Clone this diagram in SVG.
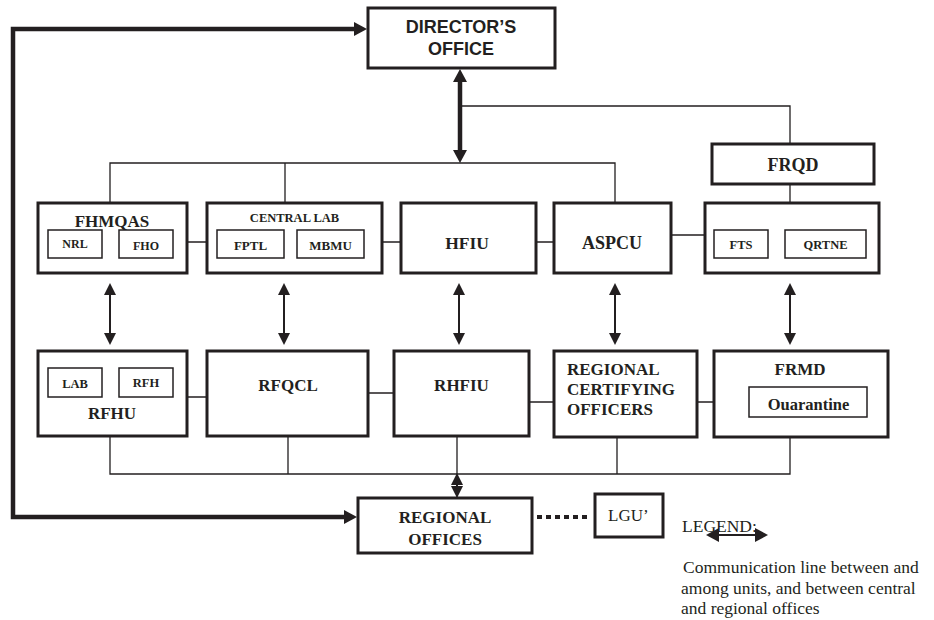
<svg xmlns="http://www.w3.org/2000/svg" width="934" height="620" viewBox="0 0 934 620">
<style>
.box{fill:#fff;stroke:#231f20;stroke-width:3}
.sub{fill:#fff;stroke:#231f20;stroke-width:1.5}
.ln{fill:none;stroke:#231f20;stroke-width:1.3}
.t{font-family:"Liberation Serif","Times New Roman",serif;font-weight:bold;fill:#231f20;text-anchor:middle}
.s{font-family:"Liberation Sans",Arial,sans-serif;font-weight:bold;fill:#231f20;text-anchor:middle;font-size:18px}
.r{font-family:"Liberation Serif","Times New Roman",serif;fill:#231f20}
</style>
<defs>
<marker id="am" viewBox="0 0 12 12" refX="1" refY="6" markerWidth="12" markerHeight="12" markerUnits="userSpaceOnUse" orient="auto-start-reverse"><path d="M0,0 L12,6 L0,12 z" fill="#231f20"/></marker>
<marker id="ab" viewBox="0 0 13 14" refX="1" refY="7" markerWidth="13" markerHeight="14" markerUnits="userSpaceOnUse" orient="auto-start-reverse"><path d="M0,0 L13,7 L0,14 z" fill="#231f20"/></marker>
</defs>
<g id="connectors">
<path class="ln" d="M460,106 H790 V144"/>
<path class="ln" d="M110,203 V163 H615 V203 M285,163 V203"/>
<path class="ln" d="M790,184 V203"/>
<path class="ln" d="M187,242 H207 M382,242 H401 M536,242 H554 M671,235 H705"/>
<path class="ln" d="M187,397 H207 M368,393 H394 M529,402 H554 M697,402 H714"/>
<path class="ln" d="M110,436 V474 H790 V437 M288,436 V474 M457,436 V474 M617,437 V474"/>
<path class="ln" d="M457,474 V498"/>
<path d="M460,81 V151" fill="none" stroke="#231f20" stroke-width="4.5" marker-start="url(#ab)" marker-end="url(#ab)"/>
<path d="M355,29 H13 V517 H345" fill="none" stroke="#231f20" stroke-width="4.5" marker-start="url(#ab)" marker-end="url(#ab)"/>
<g fill="none" stroke="#231f20" stroke-width="2" marker-start="url(#am)" marker-end="url(#am)">
<path d="M110,294 V334"/>
<path d="M284,294 V334"/>
<path d="M459,294 V334"/>
<path d="M615,294 V334"/>
<path d="M790,294 V334"/>
<path d="M457,484 V487"/>
</g>
<path d="M537,517 H590" fill="none" stroke="#231f20" stroke-width="4" stroke-dasharray="5,4"/>
</g>
<g id="director"><rect class="box" x="368" y="8" width="187" height="60"/><text class="s" x="461" y="33">DIRECTOR’S</text><text class="s" x="461" y="55">OFFICE</text></g>
<g id="frqd"><rect class="box" x="712" y="144" width="162" height="40"/><text class="t" x="793" y="171" font-size="18">FRQD</text></g>
<g id="fhmqas"><rect class="box" x="38" y="203" width="149" height="70"/><text class="t" x="112" y="227" font-size="17">FHMQAS</text>
<rect class="sub" x="48" y="230" width="54" height="28"/><text class="t" x="75" y="248" font-size="12">NRL</text>
<rect class="sub" x="119" y="230" width="54" height="28"/><text class="t" x="146" y="250" font-size="12">FHO</text></g>
<g id="centrallab"><rect class="box" x="207" y="203" width="175" height="70"/><text class="t" x="294.5" y="222" font-size="12.5">CENTRAL LAB</text>
<rect class="sub" x="217" y="230" width="67" height="28"/><text class="t" x="250.5" y="250" font-size="13">FPTL</text>
<rect class="sub" x="297" y="230" width="67" height="28"/><text class="t" x="330.5" y="250" font-size="13">MBMU</text></g>
<g id="hfiu"><rect class="box" x="401" y="203" width="135" height="70"/><text class="t" x="467" y="249" font-size="17.5">HFIU</text></g>
<g id="aspcu"><rect class="box" x="554" y="203" width="117" height="70"/><text class="t" x="612" y="249" font-size="18">ASPCU</text></g>
<g id="fts"><rect class="box" x="705" y="203" width="174" height="70"/>
<rect class="sub" x="714" y="230" width="54" height="28"/><text class="t" x="741" y="249" font-size="12.5">FTS</text>
<rect class="sub" x="785" y="230" width="81" height="28"/><text class="t" x="825.5" y="249" font-size="12.5">QRTNE</text></g>
<g id="rfhu"><rect class="box" x="38" y="351" width="149" height="85"/>
<rect class="sub" x="48" y="368" width="54" height="29"/><text class="t" x="75" y="388" font-size="12.5">LAB</text>
<rect class="sub" x="119" y="368" width="54" height="29"/><text class="t" x="146" y="387" font-size="12.5">RFH</text>
<text class="t" x="112" y="419" font-size="17">RFHU</text></g>
<g id="rfqcl"><rect class="box" x="207" y="351" width="161" height="85"/><text class="t" x="288" y="391" font-size="17">RFQCL</text></g>
<g id="rhfiu"><rect class="box" x="394" y="351" width="135" height="85"/><text class="t" x="461.5" y="391" font-size="17">RHFIU</text></g>
<g id="regcert"><rect class="box" x="554" y="351" width="143" height="86"/>
<text class="t" x="567" y="375" font-size="17" style="text-anchor:start">REGIONAL</text>
<text class="t" x="567" y="395" font-size="17" style="text-anchor:start">CERTIFYING</text>
<text class="t" x="567" y="415" font-size="17" style="text-anchor:start">OFFICERS</text></g>
<g id="frmd"><rect class="box" x="714" y="351" width="174" height="86"/><text class="t" x="800" y="375" font-size="17">FRMD</text>
<rect class="sub" x="749" y="387" width="118" height="30"/><text class="t" x="808.5" y="410" font-size="16.5">Ouarantine</text></g>
<g id="regional"><rect class="box" x="358" y="498" width="174" height="55"/><text class="t" x="445" y="523" font-size="17">REGIONAL</text><text class="t" x="445" y="545" font-size="17">OFFICES</text></g>
<g id="lgu"><rect class="box" x="595" y="494" width="68" height="43"/><text class="r" x="608" y="521" font-size="17">LGU’</text></g>
<g id="legend">
<text class="r" x="682" y="532" font-size="17.5">LEGEND:</text>
<path d="M718,535 H756" fill="none" stroke="#231f20" stroke-width="2" marker-start="url(#ab)" marker-end="url(#ab)"/>
<text class="r" x="683" y="573" font-size="17.5">Communication line between and</text>
<text class="r" x="681" y="594" font-size="17.5">among units, and between central</text>
<text class="r" x="681" y="614" font-size="17.5">and regional offices</text>
</g>
</svg>
